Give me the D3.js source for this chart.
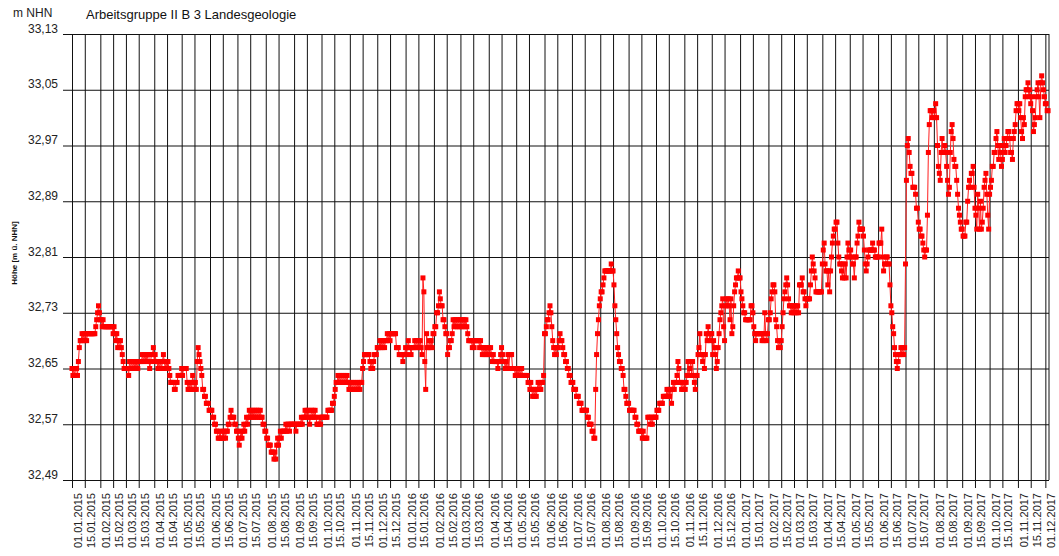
<!DOCTYPE html>
<html>
<head>
<meta charset="utf-8">
<script src="https://cdn.jsdelivr.net/npm/d3@7"></script>
<style>
body { margin: 0; background: #fff; }
text { font-family: "Liberation Sans", Arial, sans-serif; }
</style>
</head>
<body>
<div id="chart-area"></div>
<script>
const WIDTH = 1059;
const HEIGHT = 556;
const plot = { left: 72, right: 1049, top: 34, bottom: 480 };

// daily water level (m NHN), one row per month, starting on day 1
const levels2015 = [
  [32.65,32.64,32.65,32.64,32.65,32.65,32.64,32.66,32.68,32.69,32.69,32.70,32.69,32.70,32.69,32.70,32.69,32.70,32.70,32.70,32.70,32.70,32.70,32.70,32.70,32.70,32.71,32.72,32.73,32.74,32.73],
  [32.72,32.72,32.71,32.72,32.71,32.71,32.71,32.71,32.71,32.71,32.71,32.71,32.71,32.71,32.70,32.71,32.70,32.69,32.70,32.68,32.69,32.68,32.69,32.68,32.67,32.66,32.65,32.65],
  [32.65,32.65,32.65,32.64,32.66,32.65,32.66,32.65,32.66,32.65,32.66,32.65,32.66,32.65,32.66,32.66,32.66,32.66,32.67,32.66,32.67,32.66,32.67,32.66,32.67,32.67,32.65,32.66,32.67,32.67,32.68],
  [32.66,32.67,32.66,32.66,32.65,32.66,32.65,32.66,32.65,32.66,32.67,32.66,32.65,32.66,32.65,32.66,32.65,32.64,32.63,32.63,32.63,32.63,32.62,32.62,32.63,32.63,32.64,32.64,32.64,32.64],
  [32.65,32.64,32.65,32.65,32.65,32.65,32.63,32.62,32.63,32.62,32.63,32.62,32.64,32.63,32.62,32.63,32.62,32.66,32.68,32.67,32.66,32.65,32.64,32.62,32.62,32.61,32.61,32.60,32.60,32.60,32.59],
  [32.59,32.59,32.59,32.58,32.58,32.57,32.57,32.56,32.56,32.55,32.55,32.56,32.55,32.55,32.56,32.55,32.56,32.55,32.56,32.56,32.57,32.57,32.58,32.59,32.58,32.58,32.58,32.57,32.57,32.56],
  [32.56,32.55,32.54,32.55,32.56,32.55,32.56,32.57,32.56,32.57,32.58,32.57,32.58,32.59,32.58,32.59,32.58,32.59,32.58,32.59,32.58,32.59,32.58,32.59,32.58,32.59,32.58,32.58,32.57,32.57,32.56],
  [32.56,32.55,32.55,32.54,32.54,32.54,32.53,32.53,32.53,32.52,32.53,32.52,32.54,32.55,32.54,32.55,32.56,32.55,32.56,32.56,32.56,32.56,32.57,32.56,32.57,32.57,32.56,32.57,32.57,32.57,32.57],
  [32.57,32.57,32.56,32.57,32.57,32.57,32.57,32.57,32.58,32.57,32.58,32.58,32.59,32.58,32.59,32.58,32.59,32.57,32.58,32.59,32.58,32.59,32.58,32.59,32.58,32.57,32.57,32.57,32.58,32.57],
  [32.58,32.58,32.58,32.58,32.58,32.58,32.58,32.59,32.59,32.59,32.59,32.59,32.60,32.60,32.61,32.62,32.63,32.63,32.64,32.63,32.64,32.63,32.64,32.63,32.64,32.63,32.64,32.63,32.64,32.63,32.62],
  [32.63,32.62,32.63,32.62,32.63,32.62,32.63,32.62,32.63,32.62,32.63,32.62,32.63,32.63,32.65,32.66,32.67,32.67,32.67,32.67,32.67,32.67,32.66,32.65,32.66,32.65,32.66,32.67,32.67,32.67],
  [32.68,32.68,32.68,32.69,32.68,32.69,32.68,32.69,32.68,32.69,32.69,32.70,32.69,32.70,32.69,32.70,32.70,32.70,32.70,32.70,32.70,32.68,32.68,32.68,32.67,32.67,32.67,32.67,32.66,32.67,32.67]
];

const levels2016 = [
  [32.68,32.67,32.68,32.69,32.68,32.68,32.67,32.68,32.68,32.68,32.69,32.68,32.69,32.68,32.69,32.68,32.69,32.68,32.67,32.78,32.76,32.66,32.62,32.70,32.68,32.68,32.69,32.68,32.69,32.68,32.70],
  [32.70,32.71,32.71,32.73,32.73,32.74,32.76,32.75,32.74,32.74,32.72,32.72,32.71,32.70,32.70,32.67,32.68,32.68,32.69,32.69,32.70,32.72,32.71,32.72,32.71,32.72,32.71,32.72,32.71],
  [32.72,32.71,32.72,32.71,32.72,32.71,32.72,32.71,32.70,32.69,32.69,32.69,32.69,32.68,32.69,32.68,32.69,32.69,32.69,32.69,32.69,32.68,32.69,32.68,32.67,32.68,32.67,32.68,32.67,32.68,32.67],
  [32.68,32.67,32.68,32.67,32.66,32.67,32.66,32.66,32.66,32.66,32.65,32.66,32.66,32.67,32.68,32.67,32.66,32.66,32.65,32.66,32.65,32.67,32.65,32.67,32.67,32.67,32.65,32.65,32.65,32.64],
  [32.65,32.64,32.65,32.64,32.65,32.64,32.65,32.64,32.64,32.64,32.64,32.64,32.64,32.63,32.63,32.62,32.63,32.62,32.61,32.62,32.61,32.62,32.61,32.62,32.63,32.62,32.63,32.62,32.63,32.63,32.64],
  [32.70,32.70,32.71,32.72,32.72,32.73,32.74,32.73,32.71,32.69,32.68,32.67,32.68,32.67,32.68,32.68,32.69,32.70,32.69,32.69,32.68,32.67,32.67,32.66,32.66,32.65,32.65,32.64,32.64,32.63],
  [32.63,32.63,32.62,32.62,32.62,32.61,32.61,32.61,32.60,32.60,32.60,32.59,32.59,32.59,32.59,32.59,32.59,32.58,32.58,32.57,32.57,32.57,32.56,32.56,32.55,32.55,32.62,32.67,32.70,32.72,32.74],
  [32.75,32.76,32.76,32.77,32.78,32.79,32.79,32.79,32.79,32.79,32.79,32.79,32.80,32.79,32.79,32.77,32.74,32.72,32.70,32.68,32.67,32.66,32.66,32.65,32.65,32.64,32.62,32.62,32.61,32.60,32.60],
  [32.60,32.59,32.59,32.59,32.59,32.59,32.59,32.58,32.58,32.57,32.57,32.56,32.56,32.56,32.56,32.55,32.56,32.55,32.55,32.55,32.55,32.58,32.58,32.58,32.57,32.58,32.57,32.58,32.58,32.58],
  [32.58,32.59,32.59,32.59,32.60,32.60,32.60,32.60,32.61,32.61,32.61,32.61,32.62,32.61,32.62,32.61,32.62,32.60,32.62,32.63,32.62,32.63,32.63,32.64,32.66,32.65,32.63,32.63,32.62,32.63,32.62],
  [32.63,32.62,32.63,32.64,32.66,32.64,32.65,32.66,32.64,32.66,32.64,32.63,32.62,32.64,32.64,32.67,32.68,32.70,32.67,32.67,32.66,32.67,32.65,32.67,32.70,32.69,32.71,32.70,32.69,32.70],
  [32.70,32.67,32.69,32.68,32.67,32.65,32.66,32.68,32.70,32.72,32.73,32.74,32.75,32.71,32.69,32.74,32.75,32.74,32.75,32.74,32.72,32.75,32.70,32.71,32.74,32.76,32.77,32.78,32.78,32.79,32.78]
];

const levels2017 = [
  [32.78,32.76,32.75,32.74,32.73,32.73,32.72,32.72,32.72,32.72,32.72,32.72,32.74,32.74,32.73,32.71,32.70,32.69,32.70,32.70,32.70,32.70,32.70,32.70,32.69,32.70,32.69,32.73,32.70,32.69,32.70],
  [32.72,32.72,32.73,32.75,32.76,32.77,32.77,32.76,32.72,32.71,32.69,32.68,32.69,32.68,32.69,32.71,32.73,32.75,32.76,32.77,32.78,32.77,32.75,32.74,32.74,32.73,32.74,32.73],
  [32.74,32.73,32.74,32.73,32.74,32.73,32.77,32.77,32.77,32.78,32.76,32.76,32.75,32.74,32.75,32.75,32.75,32.75,32.77,32.79,32.81,32.80,32.79,32.78,32.76,32.76,32.76,32.76,32.76,32.76,32.76],
  [32.80,32.82,32.83,32.80,32.79,32.79,32.77,32.79,32.76,32.79,32.81,32.83,32.84,32.85,32.85,32.86,32.86,32.83,32.81,32.80,32.80,32.79,32.78,32.80,32.78,32.80,32.78,32.81,32.83,32.82],
  [32.81,32.82,32.81,32.80,32.80,32.78,32.81,32.81,32.83,32.84,32.86,32.85,32.85,32.85,32.85,32.84,32.82,32.80,32.79,32.80,32.81,32.82,32.82,32.82,32.82,32.83,32.82,32.82,32.81,32.81,32.81],
  [32.81,32.83,32.83,32.83,32.85,32.81,32.79,32.80,32.80,32.81,32.81,32.80,32.80,32.77,32.74,32.73,32.71,32.70,32.68,32.67,32.66,32.65,32.66,32.67,32.67,32.68,32.67,32.68,32.67,32.68],
  [32.80,32.92,32.97,32.98,32.96,32.94,32.93,32.93,32.91,32.91,32.91,32.90,32.88,32.88,32.86,32.85,32.85,32.84,32.84,32.83,32.82,32.81,32.82,32.82,32.87,32.96,33.00,33.02,33.02,33.01,33.02],
  [33.02,33.01,33.03,33.01,32.97,32.94,32.93,32.92,32.96,32.98,32.96,32.96,32.97,32.96,32.94,32.92,32.90,32.91,32.96,32.99,33.00,32.98,32.95,32.94,32.94,32.92,32.90,32.88,32.87,32.86,32.85],
  [32.85,32.84,32.84,32.84,32.86,32.86,32.89,32.91,32.92,32.91,32.93,32.93,32.94,32.91,32.88,32.87,32.85,32.90,32.88,32.85,32.89,32.85,32.86,32.88,32.91,32.92,32.93,32.90,32.87,32.85],
  [32.90,32.91,32.92,32.94,32.94,32.96,32.96,32.98,32.99,32.97,32.95,32.97,32.96,32.94,32.95,32.97,32.98,32.96,32.97,32.98,32.99,32.99,32.98,32.96,32.96,32.95,32.98,32.99,33.00,33.02,33.03],
  [33.03,33.02,33.03,33.01,32.99,32.98,33.01,33.00,33.04,33.05,33.05,33.06,33.04,33.05,33.03,33.04,33.02,32.99,33.00,33.01,33.04,33.05,33.06,33.04,33.01,33.06,33.07,33.06,33.05,33.04],
  [33.03,33.03,33.02,33.02]
];

const years = [2015, 2016, 2017];
const yTicks = [32.49, 32.57, 32.65, 32.73, 32.81, 32.89, 32.97, 33.05, 33.13];
const tickDaysOfMonth = [1, 15];

const title = "Arbeitsgruppe II B 3 Landesgeologie";
const unitLabel = "m NHN";
const axisLabel = "Höhe [m ü. NHN]";

const startDate = new Date(2015, 0, 1);
const endDate = new Date(2017, 11, 5);
const lastTick = new Date(2017, 11, 1);

const data = [levels2015, levels2016, levels2017].flatMap((months, yi) =>
    months.flatMap((vals, m) => vals.map((v, k) => ({ date: new Date(years[yi], m, k + 1), level: v }))));

const xTicks = [];
d3.timeMonth.range(startDate, d3.timeMonth.offset(lastTick, 1)).forEach((m) => {
    tickDaysOfMonth.forEach((day) => {
        const t = new Date(m.getFullYear(), m.getMonth(), day);
        if (t <= lastTick) xTicks.push(t);
    });
});

const svg = d3.select("#chart-area").append("svg")
    .attr("width", WIDTH)
    .attr("height", HEIGHT);

svg.append("rect").attr("width", WIDTH).attr("height", HEIGHT).attr("fill", "#fff");

const x = d3.scaleTime().domain([startDate, endDate]).range([plot.left, plot.right]);
const y = d3.scaleLinear().domain([32.49, 33.13]).range([plot.bottom, plot.top]);

const commaFormat = (d) => d3.format(".2f")(d).replace(".", ",");

// horizontal grid + y labels
const yAxisGroup = svg.append("g").attr("transform", `translate(${plot.right},0)`);
yAxisGroup.call(d3.axisLeft(y).tickValues(yTicks).tickSize(plot.right - 63).tickPadding(5).tickFormat(commaFormat));
yAxisGroup.select(".domain").remove();
yAxisGroup.selectAll("line").attr("stroke", "#111");
yAxisGroup.selectAll("text")
    .attr("dy", "-2px")
    .attr("font-size", "12px")
    .attr("fill", "#222")
    .style("font-family", "'Liberation Sans', Arial, sans-serif");

// vertical grid + date labels
const xAxisGroup = svg.append("g").attr("transform", `translate(0,488)`);
xAxisGroup.call(d3.axisBottom(x).tickValues(xTicks).tickSize(-(488 - plot.top)).tickFormat(d3.timeFormat("%d.%m.%Y")));
xAxisGroup.select(".domain").remove();
xAxisGroup.selectAll("line").attr("stroke", "#111");
xAxisGroup.selectAll("text")
    .attr("transform", "rotate(-90)")
    .attr("text-anchor", "end")
    .attr("x", -5)
    .attr("y", 9.5)
    .attr("dy", 0)
    .attr("font-size", "11px")
    .attr("fill", "#222")
    .style("font-family", "'Liberation Sans', Arial, sans-serif");

// right border
svg.append("line")
    .attr("x1", plot.right).attr("x2", plot.right)
    .attr("y1", plot.top).attr("y2", plot.bottom)
    .attr("stroke", "#111");

// series
const line = d3.line().x((d) => x(d.date)).y((d) => y(d.level));
svg.append("path")
    .datum(data)
    .attr("fill", "none")
    .attr("stroke", "#ff2020")
    .attr("stroke-width", 1)
    .attr("d", line);

svg.append("g").selectAll("rect")
    .data(data)
    .enter().append("rect")
    .attr("x", (d) => x(d.date) - 2.5)
    .attr("y", (d) => y(d.level) - 2.5)
    .attr("width", 5)
    .attr("height", 5)
    .attr("fill", "#ff0000");

// labels
svg.append("text")
    .attr("x", 86).attr("y", 19)
    .attr("font-size", "13px")
    .attr("fill", "#111")
    .text(title);

svg.append("text")
    .attr("x", 13).attr("y", 17)
    .attr("font-size", "12px")
    .attr("fill", "#222")
    .text(unitLabel);

svg.append("text")
    .attr("transform", "translate(17,253) rotate(-90)")
    .attr("text-anchor", "middle")
    .attr("font-size", "8px")
    .attr("font-weight", "bold")
    .attr("fill", "#111")
    .text(axisLabel);
</script>
</body>
</html>
